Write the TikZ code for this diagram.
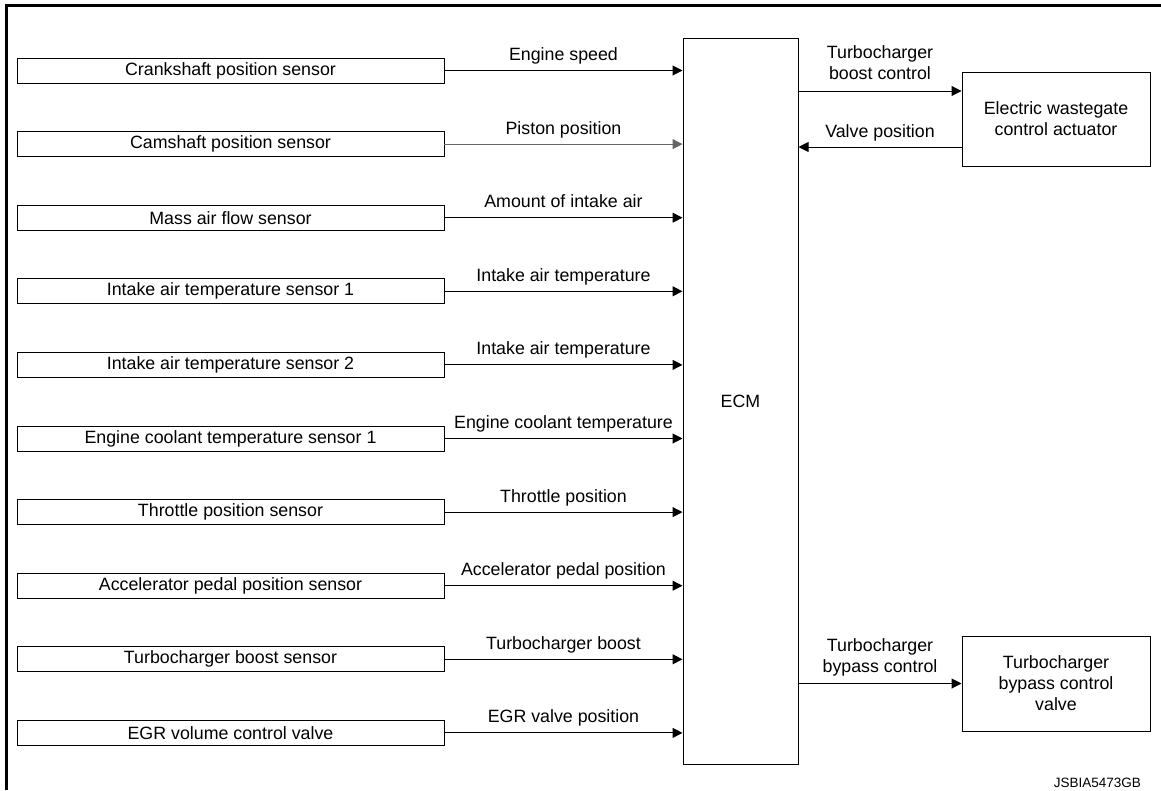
\documentclass[tikz,border=0pt]{standalone}
\usepackage{fontspec}
\setmainfont{Liberation Sans}
\usetikzlibrary{arrows.meta}

\begin{document}
\begin{tikzpicture}[x=1pt,y=-1pt,
  font=\fontsize{17.8}{21}\selectfont,
  sensor/.style={draw, line width=0.9pt, minimum width=427pt, minimum height=25pt, inner sep=0pt},
  unitbox/.style={draw, line width=1pt, inner sep=0pt, align=center},
  conn/.style={line width=1pt, -{Triangle[length=10pt,width=10pt]}},
  siglabel/.style={midway, anchor=base, inner sep=0pt, yshift=10pt},
  ctllabel/.style={midway, anchor=south, align=center, inner sep=0pt, text depth=0pt, yshift=11pt}
]
\useasboundingbox (0,0) rectangle (1161,790);

% outer frame (left and top edges)
\draw[line width=3pt] (6.5,790) -- (6.5,5.5) -- (1161,5.5);

% engine control module
\node[unitbox, minimum width=115pt, minimum height=726pt] (ecm) at (740.5,401) {ECM};

% actuators on the right
\node[unitbox, minimum width=188pt, minimum height=94pt] (ewca) at (1056,119)
  {Electric wastegate\\control actuator};
\node[unitbox, minimum width=188pt, minimum height=95pt] (bypass) at (1056,683.5)
  {Turbocharger\\bypass control\\valve};

% sensor inputs to the ECM
\foreach \txt/\sig/\col [count=\i from 0] in {
  Crankshaft position sensor/Engine speed/black,
  Camshaft position sensor/Piston position/black!60,
  Mass air flow sensor/Amount of intake air/black,
  Intake air temperature sensor 1/Intake air temperature/black,
  Intake air temperature sensor 2/Intake air temperature/black,
  Engine coolant temperature sensor 1/Engine coolant temperature/black,
  Throttle position sensor/Throttle position/black,
  Accelerator pedal position sensor/Accelerator pedal position/black,
  Turbocharger boost sensor/Turbocharger boost/black,
  EGR volume control valve/EGR valve position/black}
{
  \node[sensor] (s\i) at (230.5,{70.5+73.6*\i}) {\txt};
  \draw[conn, draw=\col, fill=\col] (s\i.east) -- (s\i.east -| ecm.west)
    node[siglabel, text=black] {\sig};
}

% ECM outputs and feedback
\draw[conn] ([yshift=28pt]ewca.west -| ecm.east) -- ([yshift=28pt]ewca.west)
  node[ctllabel] {Turbocharger\\boost control};
\draw[conn] ([yshift=-28pt]ewca.west) -- ([yshift=-28pt]ewca.west -| ecm.east)
  node[siglabel] {Valve position};
\draw[conn] (bypass.west -| ecm.east) -- (bypass.west)
  node[ctllabel] {Turbocharger\\bypass control};

% figure reference code
\node[font=\fontsize{13.5}{16}\selectfont, anchor=base east, inner sep=0pt] (ref) at (1141,787) {JSBIA5473GB};
\end{tikzpicture}
\end{document}
